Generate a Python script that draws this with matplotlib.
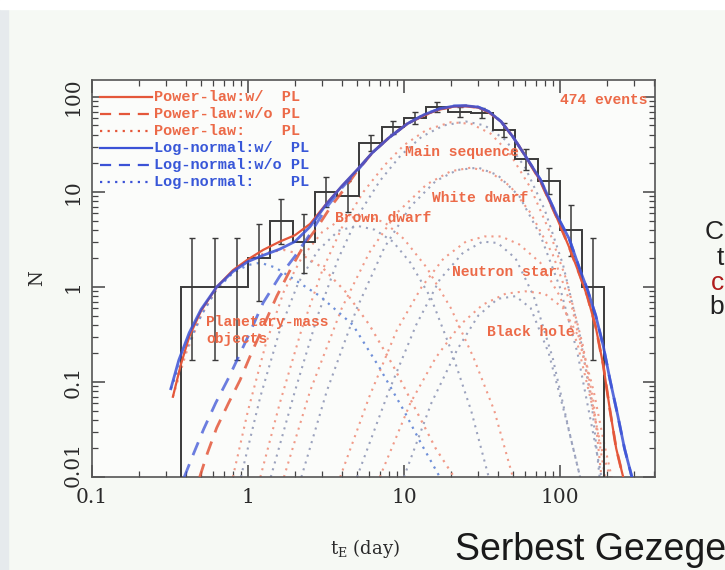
import matplotlib
matplotlib.use("Agg")
import matplotlib.pyplot as plt
import matplotlib.transforms as mtransforms
import numpy as np

plt.rcParams.update({
    'font.family': 'DejaVu Serif',
    'mathtext.fontset': 'dejavuserif',
    'axes.linewidth': 1.2,
})

# Event counts per timescale bin (7 bins per decade)
bin_edges = [0.373, 0.518, 0.72, 1.0, 1.39, 1.93, 2.68, 3.73, 5.18, 7.2, 10.0,
             13.9, 19.3, 26.8, 37.3, 51.8, 72.0, 100.0, 139.0, 193.0]
counts = [1, 1, 1, 2, 5, 3, 10, 9, 33, 48, 60, 78, 70, 68, 45, 22, 13, 4, 1]
err_lo = [0.17, 0.17, 0.17, 0.71, 2.8, 1.4, 6.9, 6.1, 27, 41, 52, 69, 62, 60, 38, 17, 9.5, 2.1, 0.17]
err_hi = [3.3, 3.3, 3.3, 4.6, 8.4, 5.9, 14.3, 13.1, 40, 56, 69, 88, 79, 77, 53, 28, 17.7, 7.2, 3.3]

# Log-normal model, with planetary-mass population
t_ln = [0.32, 0.36, 0.42, 0.5, 0.63, 0.8, 1.0, 1.25, 1.6, 2.0, 2.5, 3.2, 4.0, 5.0,
        6.3, 8.0, 10.5, 13.5, 17, 21, 25, 30, 35, 42, 50, 60, 75, 95, 115, 135,
        150, 170, 190, 210, 235, 260, 290]
n_ln = [0.085, 0.17, 0.33, 0.58, 1.0, 1.45, 1.85, 2.15, 2.5, 3.0, 4.3, 7.5, 11.5, 17,
        26, 37, 52, 65, 75, 80, 80.5, 78, 70, 55, 38, 24, 13.5, 5.8, 3.2, 1.5,
        0.95, 0.5, 0.24, 0.105, 0.045, 0.02, 0.01]
# Power-law model, with planetary-mass population
t_pl = [0.33, 0.37, 0.42, 0.5, 0.63, 0.8, 1.0, 1.25, 1.6, 2.0, 2.5, 3.2, 4.0, 5.0,
        6.3, 8.0, 10.5, 13.5, 17, 21, 25, 30, 35, 42, 50, 60, 75, 95, 115, 135,
        150, 170, 190, 210, 230, 255]
n_pl = [0.07, 0.15, 0.3, 0.56, 1.0, 1.5, 1.95, 2.45, 3.0, 3.5, 4.6, 7.6, 11.5, 17,
        26, 37, 52, 64, 74, 79, 80, 77, 69, 55, 38, 24, 13, 5.5, 2.6, 1.3,
        0.8, 0.38, 0.15, 0.05, 0.02, 0.01]

# Models without the planetary-mass population (tail shared with the full model)
t_ln_nopl = [0.39, 0.45, 0.52, 0.62, 0.75, 0.85, 1.0, 1.25, 1.6, 2.0, 2.5, 3.2, 4.0, 5.0] + t_ln[14:]
n_ln_nopl = [0.01, 0.018, 0.032, 0.06, 0.11, 0.17, 0.3, 0.68, 1.3, 2.1, 3.6, 6.9, 11, 16.5] + n_ln[14:]
t_pl_nopl = [0.49, 0.55, 0.63, 0.75, 0.89, 1.05, 1.25, 1.53, 1.9, 2.3, 2.8, 3.4, 4.2, 5.0] + t_pl[14:]
n_pl_nopl = [0.01, 0.018, 0.033, 0.06, 0.105, 0.2, 0.38, 0.8, 1.6, 2.8, 4.3, 7.0, 11, 16.5] + n_pl[14:]

# Planetary-mass population alone
t_ln_planet = [0.32, 0.4, 0.5, 0.63, 0.8, 1.0, 1.2, 1.5, 1.9, 2.9, 4.7, 7.0, 10, 13, 17]
n_ln_planet = [0.085, 0.22, 0.5, 0.95, 1.4, 1.7, 1.8, 1.6, 1.25, 0.8, 0.4, 0.14, 0.05, 0.022, 0.01]
t_pl_planet = [0.33, 0.4, 0.5, 0.63, 0.8, 1.0, 1.3, 1.7, 2.2, 3.0, 4.2, 6.0, 8.5, 12, 16, 21]
n_pl_planet = [0.07, 0.2, 0.5, 0.95, 1.45, 1.9, 2.3, 2.45, 2.2, 1.6, 0.9, 0.4, 0.15, 0.05, 0.02, 0.01]

# Stellar populations, power-law model
t_bd = [0.8, 1.0, 1.3, 1.7, 2.2, 3.0, 4.0, 5.5, 7.5, 10, 14, 20, 28, 38, 50]
n_bd = [0.01, 0.05, 0.25, 0.9, 2.0, 3.8, 5.2, 5.6, 4.8, 3.2, 1.6, 0.6, 0.18, 0.05, 0.01]
t_ms = [1.2, 1.6, 2.2, 3.0, 4.0, 5.5, 7.5, 10, 14, 20, 27, 36, 48, 65, 85, 110, 140, 165, 185]
n_ms = [0.01, 0.06, 0.35, 1.5, 4.2, 10, 19, 31, 45, 54, 52, 41, 25, 11, 4, 1.2, 0.25, 0.06, 0.01]
t_wd = [1.7, 2.5, 4, 6, 9, 14, 20, 27, 36, 48, 65, 90, 120, 150, 175, 195]
n_wd = [0.01, 0.08, 0.6, 2.3, 6, 12, 16.5, 18, 16, 11.5, 6, 2.2, 0.6, 0.12, 0.03, 0.01]
t_ns = [3.9, 6, 9, 13, 18, 25, 33, 42, 55, 75, 100, 130, 160, 185, 210]
n_ns = [0.01, 0.07, 0.35, 1.0, 2.0, 3.0, 3.4, 3.4, 2.8, 1.8, 0.8, 0.25, 0.06, 0.02, 0.01]
t_bh = [7, 11, 16, 23, 32, 45, 60, 80, 105, 135, 165, 190, 215]
n_bh = [0.01, 0.06, 0.18, 0.4, 0.65, 0.85, 0.9, 0.85, 0.6, 0.28, 0.08, 0.025, 0.01]

# Same populations, log-normal model
t_bd_ln = [0.9, 1.2, 1.6, 2.1, 2.8, 3.8, 5, 6.5, 8.5, 11, 15, 20, 27, 35]
n_bd_ln = [0.01, 0.07, 0.35, 1.1, 2.4, 3.9, 4.4, 4.0, 3.0, 1.8, 0.75, 0.22, 0.05, 0.01]
t_ms_ln = [1.4, 2, 2.8, 3.8, 5.2, 7, 9.5, 13, 18, 25, 33, 45, 60, 80, 105, 135, 160, 180]
n_ms_ln = [0.01, 0.08, 0.5, 2.0, 6.0, 13, 24, 38, 50, 55, 50, 35, 18, 6.5, 1.7, 0.3, 0.06, 0.01]
t_wd_ln = [2.2, 3.2, 5, 7.5, 11, 16, 22, 30, 40, 55, 75, 100, 130, 160, 185]
n_wd_ln = [0.01, 0.08, 0.6, 2.6, 7, 13, 17, 18, 15, 9, 3.5, 1.0, 0.2, 0.035, 0.01]
t_ns_ln = [5, 8, 12, 17, 24, 32, 40, 52, 68, 90, 115, 135]
n_ns_ln = [0.01, 0.08, 0.4, 1.2, 2.3, 3.0, 2.9, 2.0, 0.8, 0.18, 0.03, 0.01]
t_bh_ln = [10, 15, 22, 30, 40, 52, 65, 85, 110, 135]
n_bh_ln = [0.01, 0.06, 0.22, 0.5, 0.75, 0.8, 0.6, 0.2, 0.04, 0.01]

legend_labels = ['Power-law:w/  PL', 'Power-law:w/o PL', 'Power-law:    PL',
                 'Log-normal:w/  PL', 'Log-normal:w/o PL', 'Log-normal:    PL']

RED = '#e4573a'
BLUE = '#3b52d6'
RED_TXT = '#ec6a48'
BLUE_TXT = '#3857d8'
PINK_DOT = '#f09a88'
GRAY_DOT = '#9ba2bd'
DOTS = (0, (1, 2.4))
DASH = (0, (5, 3.5))
MONO = 'Liberation Mono'

fig = plt.figure(figsize=(7.25, 5.7), dpi=100, facecolor='#f6f9f4')
fig.patches.append(plt.Rectangle((0, 0), 0.011, 1, transform=fig.transFigure,
                                 color='#e6eaed', zorder=0))
fig.patches.append(plt.Rectangle((0, 0.985), 1, 0.015, transform=fig.transFigure,
                                 color='#ffffff', zorder=0))
ax = fig.add_axes([0.127, 0.163, 0.776, 0.697])
ax.set_facecolor('#fbfcfa')

# population components
for t, n in [(t_bd_ln, n_bd_ln), (t_ms_ln, n_ms_ln), (t_wd_ln, n_wd_ln),
             (t_ns_ln, n_ns_ln), (t_bh_ln, n_bh_ln)]:
    ax.plot(t, n, color=GRAY_DOT, ls=DOTS, lw=1.5, zorder=2)
for t, n in [(t_bd, n_bd), (t_ms, n_ms), (t_wd, n_wd), (t_ns, n_ns), (t_bh, n_bh)]:
    ax.plot(t, n, color=PINK_DOT, ls=DOTS, lw=1.5, zorder=2)
ax.plot(t_pl_planet, n_pl_planet, color=PINK_DOT, ls=DOTS, lw=1.6, zorder=2)
ax.plot(t_ln_planet, n_ln_planet, color='#6f8fd8', ls=DOTS, lw=1.6, zorder=2)

# histogram with Poisson errors
centers = np.sqrt(np.array(bin_edges[:-1]) * np.array(bin_edges[1:]))
ax.stairs(counts, bin_edges, baseline=1e-3, color='#3a3a3a', lw=1.4, zorder=3)
cnt = np.array(counts, dtype=float)
ax.errorbar(centers, cnt, yerr=[cnt - np.array(err_lo), np.array(err_hi) - cnt],
            fmt='none', ecolor='#3a3a3a', elinewidth=1.1, capsize=2, capthick=1.0, zorder=3)

# model curves
ax.plot(t_pl_nopl, n_pl_nopl, color=RED, ls=DASH, lw=2.0, alpha=0.85, zorder=4)
ax.plot(t_ln_nopl, n_ln_nopl, color=BLUE, ls=DASH, lw=2.0, alpha=0.75, zorder=4)
ax.plot(t_pl, n_pl, color=RED, lw=1.6, zorder=5)
ax.plot(t_ln, n_ln, color=BLUE, lw=2.0, alpha=0.85, zorder=6)

ax.set_xscale('log')
ax.set_yscale('log')
ax.set_xlim(0.1, 406)
ax.set_ylim(0.01, 151)
ax.set_xticks([0.1, 1, 10, 100])
ax.set_xticklabels(['0.1', '1', '10', '100'])
ax.set_yticks([0.01, 0.1, 1, 10, 100])
ylabels = ax.set_yticklabels(['0.01', '0.1', '1', '10', '100'], rotation=90, va='center')
ax.tick_params(which='both', direction='in', top=True, right=True, color='#444444')
ax.tick_params(which='major', length=9, width=1.1, labelsize=14.5, labelcolor='#2a2a2a')
ax.tick_params(which='minor', length=4.5, width=0.9)
ax.tick_params(axis='x', pad=8)
ax.tick_params(axis='y', pad=7)
# lift the lowest y label so it clears the 0.1 label in the corner
low = ax.yaxis.get_major_ticks()[0].label1
low.set_transform(low.get_transform() +
                  mtransforms.ScaledTranslation(0, 9 / 72, fig.dpi_scale_trans))
for s in ax.spines.values():
    s.set_color('#555555')

ax.set_ylabel('N', fontsize=13, color='#2a2a2a')
ax.yaxis.set_label_coords(-0.082, 0.5)
ax.set_xlabel(r't$_\mathrm{E}$ (day)', fontsize=13, color='#2a2a2a')
ax.xaxis.set_label_coords(0.485, -0.152)

# hand-built legend in the upper left
row_y = [0.957, 0.914, 0.871, 0.829, 0.786, 0.743]
styles = [(RED, '-'), (RED, DASH), (RED, DOTS), (BLUE, '-'), (BLUE, DASH), (BLUE, DOTS)]
for i, (lab, y, (c, ls)) in enumerate(zip(legend_labels, row_y, styles)):
    ax.plot([0.014, 0.107], [y, y], transform=ax.transAxes, color=c, ls=ls,
            lw=1.6, clip_on=False, zorder=7)
    tc = RED_TXT if i < 3 else BLUE_TXT
    ax.text(0.110, y, lab, transform=ax.transAxes, color=tc, fontsize=11,
            family=MONO, fontweight='bold', va='center', ha='left', zorder=7)

lab_kw = dict(color=RED_TXT, fontsize=10.5, family=MONO, fontweight='bold',
              ha='left', va='center', zorder=8)
ax.text(366, 93, '474 events', **dict(lab_kw, ha='right'))
ax.text(10.1, 26.4, 'Main sequence', **lab_kw)
ax.text(15.1, 8.6, 'White dwarf', **lab_kw)
ax.text(3.6, 5.3, 'Brown dwarf', **lab_kw)
ax.text(20.3, 1.42, 'Neutron star', **lab_kw)
ax.text(34, 0.336, 'Black hole', **lab_kw)
ax.text(0.54, 0.35, 'Planetary-mass\nobjects', linespacing=1.3, **lab_kw)

# slide text around the figure
sans = dict(family='Liberation Sans', fontsize=19, ha='right', va='center')
fig.text(724 / 725, 1 - 232 / 570, 'C', color='#222222', **sans)
fig.text(724 / 725, 1 - 258 / 570, 't', color='#222222', **sans)
fig.text(724 / 725, 1 - 283 / 570, 'c', color='#b01c1c', **sans)
fig.text(724 / 725, 1 - 307 / 570, 'b', color='#222222', **sans)
fig.text(455 / 725, 1 - 550 / 570, 'Serbest Gezege', family='Liberation Sans',
         fontsize=27, color='#1a1a1a', ha='left', va='center')

fig.savefig('out.png', dpi=100, facecolor=fig.get_facecolor())
